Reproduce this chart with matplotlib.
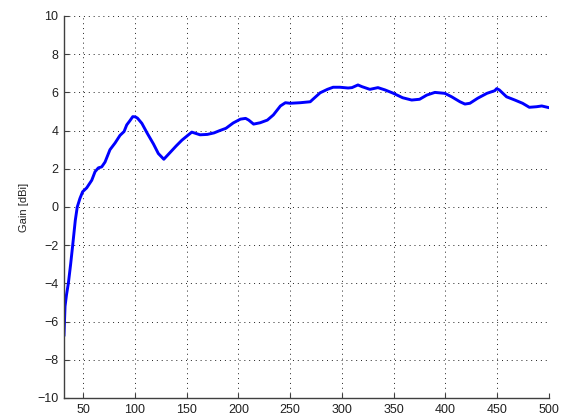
import matplotlib
matplotlib.use("Agg")
import matplotlib.pyplot as plt

# frecuencia (MHz) y ganancia (dBi)
freq = [31.6, 32.6, 34.0, 35.8, 38.0, 40.0, 42.5, 44.4, 47.0, 49.6, 53.5, 58.4,
        61.6, 64.8, 68.0, 71.2, 76.0, 80.9, 85.7, 89.6, 92.2, 95.0, 98.0, 100.5,
        102.6, 106.8, 112.0, 118.0, 122.7, 128.0, 134.0, 140.0, 145.5, 150.0,
        155.0, 159.0, 163.0, 170.0, 176.5, 182.0, 188.0, 195.0, 202.0, 207.0,
        210.0, 214.7, 221.0, 228.0, 233.8, 240.6, 245.4, 250.0, 259.8, 269.4,
        272.0, 279.0, 286.0, 291.5, 298.0, 306.0, 309.7, 315.5, 319.4, 327.0,
        334.8, 341.6, 349.0, 358.7, 367.4, 375.0, 382.0, 389.8, 399.4, 406.0,
        414.0, 418.8, 423.6, 431.0, 440.0, 447.6, 449.5, 452.0, 459.0, 467.0,
        474.5, 481.0, 488.0, 493.0, 500.0]
gain = [-6.7, -5.2, -4.6, -4.0, -3.0, -2.0, -0.7, 0.0, 0.45, 0.8, 1.0, 1.4,
        1.85, 2.05, 2.1, 2.35, 3.0, 3.35, 3.75, 3.95, 4.3, 4.5, 4.73, 4.72,
        4.65, 4.38, 3.86, 3.3, 2.8, 2.5, 2.85, 3.2, 3.5, 3.7,
        3.92, 3.85, 3.78, 3.8, 3.88, 4.0, 4.12, 4.4, 4.6, 4.64,
        4.55, 4.34, 4.41, 4.55, 4.82, 5.29, 5.46, 5.43, 5.46, 5.51,
        5.64, 5.98, 6.16, 6.27, 6.27, 6.23, 6.25, 6.39, 6.3, 6.16,
        6.25, 6.13, 5.97, 5.72, 5.6, 5.64, 5.86, 6.0, 5.95, 5.77,
        5.51, 5.39, 5.43, 5.69, 5.95, 6.09, 6.2, 6.13, 5.77, 5.6,
        5.43, 5.22, 5.25, 5.29, 5.2]

xticks = [50, 100, 150, 200, 250, 300, 350, 400, 450, 500]
yticks = [-10, -8, -6, -4, -2, 0, 2, 4, 6, 8, 10]

plt.rcParams['font.family'] = ['Liberation Sans', 'DejaVu Sans']

fig = plt.figure(figsize=(5.67, 4.17), dpi=100)
ax = fig.add_axes([64/567, 1 - 398/417, (549 - 64)/567, (398 - 16)/417])

ax.plot(freq, gain, color=(0, 0, 1), linewidth=2.1, solid_joinstyle='round')

ax.set_xlim(31.6, 500)
ax.set_ylim(-10, 10)
ax.set_xticks(xticks)
ax.set_yticks(yticks)
ax.grid(True, linestyle=(0, (1, 4)), color='#202020', linewidth=0.7)

for side in ['top', 'right']:
    ax.spines[side].set_visible(False)
for side in ['left', 'bottom']:
    ax.spines[side].set_color('#404040')
    ax.spines[side].set_linewidth(1.0)

ax.tick_params(direction='in', length=3.5, width=0.8, color='#404040',
               labelsize=9, labelcolor='#202020', pad=4)
ax.set_ylabel('Gain [dBi]', fontsize=8, color='#202020', labelpad=6)

fig.savefig('out.png', dpi=100)
